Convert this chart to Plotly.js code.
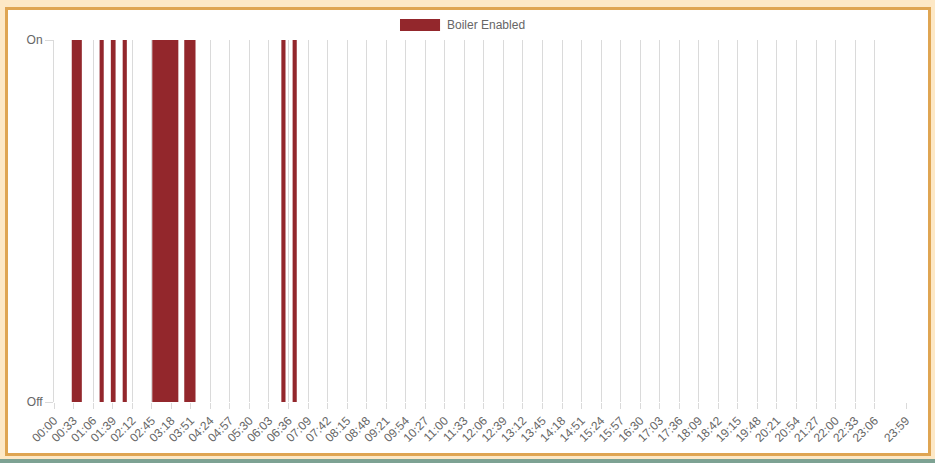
<!DOCTYPE html>
<html>
<head>
<meta charset="utf-8">
<script src="https://cdn.plot.ly/plotly-3.0.1.min.js"></script>
<style>
  html, body { margin: 0; padding: 0; width: 935px; height: 463px; overflow: hidden; background: #fde8c6; }
  #panel { position: absolute; left: 5px; top: 7px; width: 926px; height: 449px; box-sizing: border-box;
           border: 3px solid #dfa552; background: #ffffff; }
  #footer { position: absolute; left: 0; top: 459px; width: 935px; height: 4px; background: #7da293; }
  #myDiv { position: absolute; left: 0; top: 0; width: 935px; height: 463px; }
</style>
</head>
<body>
<div id="panel"></div>
<div id="footer"></div>
<div id="myDiv"></div>
<script>
  // moments where the boiler switched, and the state it switched to (1 = On, 0 = Off)
  var switchTimes  = ['00:00', '00:30', '00:47', '01:17', '01:24', '01:36', '01:44', '01:56', '02:03',
                      '02:46', '03:30', '03:40', '03:59', '06:24', '06:31', '06:43', '06:50', '23:59'];
  var switchStates = [0, 1, 0, 1, 0, 1, 0, 1, 0,
                      1, 0, 1, 0, 1, 0, 1, 0, 0];

  var tickLabels = ['00:00', '00:33', '01:06', '01:39', '02:12', '02:45', '03:18', '03:51', '04:24', '04:57',
                    '05:30', '06:03', '06:36', '07:09', '07:42', '08:15', '08:48', '09:21', '09:54', '10:27',
                    '11:00', '11:33', '12:06', '12:39', '13:12', '13:45', '14:18', '14:51', '15:24', '15:57',
                    '16:30', '17:03', '17:36', '18:09', '18:42', '19:15', '19:48', '20:21', '20:54', '21:27',
                    '22:00', '22:33', '23:06', '23:59'];

  function toMinutes(t) {
    var p = t.split(':');
    return parseInt(p[0], 10) * 60 + parseInt(p[1], 10);
  }

  var boiler = {
    x: switchTimes.map(toMinutes),
    y: switchStates,
    type: 'scatter',
    mode: 'lines',
    name: 'Boiler Enabled',
    line: { shape: 'hv', width: 0, color: '#93272c' },
    fill: 'tozeroy',
    fillcolor: '#93272c',
    showlegend: false,
    hoverinfo: 'skip'
  };

  var gridCol = '#dadada';
  var txtFont = { family: 'Liberation Sans, Arial, sans-serif', size: 12, color: '#666666' };

  var layout = {
    width: 935,
    height: 463,
    margin: { l: 54, r: 29, t: 40, b: 61 },
    paper_bgcolor: 'rgba(0,0,0,0)',
    plot_bgcolor: 'rgba(0,0,0,0)',
    font: txtFont,
    showlegend: false,
    xaxis: {
      type: 'linear',
      range: [0, 1439],
      tickmode: 'array',
      tickvals: tickLabels.map(toMinutes),
      ticktext: tickLabels,
      tickangle: -45,
      ticks: 'outside',
      ticklen: 6,
      tickcolor: gridCol,
      showgrid: true,
      gridcolor: gridCol,
      gridwidth: 1,
      zeroline: false,
      showline: false,
      tickfont: txtFont
    },
    yaxis: {
      range: [0, 1],
      tickmode: 'array',
      tickvals: [0, 1],
      ticktext: ['Off', 'On'],
      ticks: 'outside',
      ticklen: 8,
      tickcolor: gridCol,
      showgrid: true,
      gridcolor: gridCol,
      zeroline: false,
      showline: true,
      linecolor: gridCol,
      tickfont: txtFont
    },
    shapes: [{
      type: 'rect', xref: 'paper', yref: 'paper',
      x0: 0.4061, x1: 0.4531, y0: 1.025, y1: 1.058,
      fillcolor: '#93272c', line: { width: 0 }
    }],
    annotations: [{
      xref: 'paper', yref: 'paper', x: 0.4590, y: 1.041,
      xanchor: 'left', yanchor: 'middle', showarrow: false,
      text: 'Boiler Enabled', font: txtFont
    }]
  };

  Plotly.newPlot('myDiv', [boiler], layout, { displayModeBar: false, staticPlot: true });
</script>
</body>
</html>
